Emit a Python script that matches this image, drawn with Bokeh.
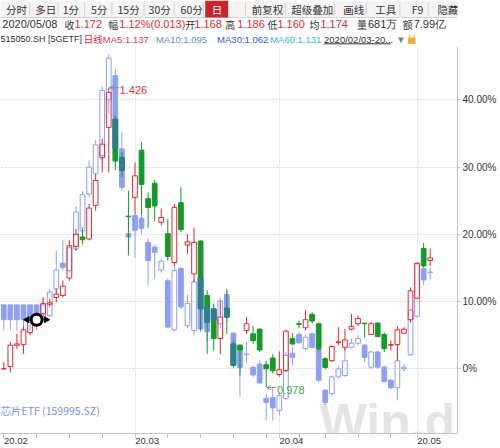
import numpy as np
import pandas as pd
from bokeh.plotting import figure
from bokeh.layouts import column
from bokeh.models import ColumnDataSource, Range1d, FixedTicker, Label, Arrow, OpenHead
from bokeh.embed import file_html
from bokeh.resources import INLINE
from bokeh.core.properties import value

# ---------------- data ----------------
dates = [
    "2020-02-03", "2020-02-04", "2020-02-05", "2020-02-06", "2020-02-07",
    "2020-02-10", "2020-02-11", "2020-02-12", "2020-02-13", "2020-02-14",
    "2020-02-17", "2020-02-18", "2020-02-19", "2020-02-20", "2020-02-21",
    "2020-02-24", "2020-02-25", "2020-02-26", "2020-02-27", "2020-02-28",
    "2020-03-02", "2020-03-03", "2020-03-04", "2020-03-05", "2020-03-06",
    "2020-03-09", "2020-03-10", "2020-03-11", "2020-03-12", "2020-03-13",
    "2020-03-16", "2020-03-17", "2020-03-18", "2020-03-19", "2020-03-20",
    "2020-03-23", "2020-03-24", "2020-03-25", "2020-03-26", "2020-03-27",
    "2020-03-30", "2020-03-31",
    "2020-04-01", "2020-04-02", "2020-04-03", "2020-04-07", "2020-04-08",
    "2020-04-09", "2020-04-10", "2020-04-13", "2020-04-14", "2020-04-15",
    "2020-04-16", "2020-04-17", "2020-04-20", "2020-04-21", "2020-04-22",
    "2020-04-23", "2020-04-24", "2020-04-27", "2020-04-28", "2020-04-29",
    "2020-04-30",
    "2020-05-06", "2020-05-07", "2020-05-08",
]
month_labels = ["20.02", "20.03", "20.04", "20.05"]
y_ticks = [0, 10, 20, 30, 40]
y_tick_labels = ["0%", "10.00%", "20.00%", "30.00%", "40.00%"]

# 515050.SH [5GETF], % change vs base
a_open = [0.0, 0.35, 3.5, 3.6, 5.4, 7.0, 8.2, 9.6, 10.6, 10.9,
          13.5, 18.2, 19.6, 19.3, 24.3, 31.4, 35.9, 37.1, 31.4, 22.7,
          25.5, 32.5, 25.3, 27.6, 21.8, 20.1, 15.8, 24.7, 18.4, 14.1,
          19.0, 10.9, 8.9, 4.5, 9.0, 3.7, 3.5, 5.7, 5.2, 5.9,
          0.6, 1.6, -0.85, -0.25, 4.5, 6.7, 6.1, 8.1, 6.7, 1.5,
          1.2, 3.9, 3.2, 5.9, 6.7, 6.8, 5.1, 6.8, 5.1, 3.5,
          3.6, 5.3, 7.3, 10.5, 17.9, 16.1]
a_high = [1.0, 4.0, 5.2, 6.3, 7.7, 8.4, 10.6, 10.4, 11.9, 13.1,
          19.1, 20.8, 21.0, 24.5, 29.0, 34.2, 41.8, 37.6, 32.2, 26.5,
          30.7, 33.7, 26.2, 28.1, 23.8, 22.3, 24.5, 27.0, 20.0, 21.0,
          19.1, 11.7, 9.7, 10.1, 11.9, 4.2, 3.7, 7.7, 6.4, 6.0,
          1.2, 2.2, 2.6, 5.8, 5.3, 7.2, 8.7, 8.4, 6.9, 1.7,
          3.5, 6.2, 5.9, 8.2, 7.9, 6.8, 7.0, 6.9, 5.4, 4.2,
          6.4, 6.2, 12.1, 15.8, 18.7, 17.9]
a_low = [-0.1, -0.5, 3.0, 2.2, 5.0, 6.6, 7.7, 9.2, 9.9, 10.6,
         13.1, 17.6, 18.5, 19.1, 23.5, 29.2, 29.2, 29.5, 28.5, 17.0,
         23.0, 23.0, 21.0, 22.0, 21.3, 16.1, 15.1, 20.3, 17.1, 12.9,
         5.7, 2.2, 2.7, 2.2, 5.2, 0.2, -1.0, 5.2, 3.7, 2.5,
         -2.8, -0.7, -1.2, -0.5, 3.5, 6.0, 5.7, 6.7, 2.7, -0.1,
         1.0, 3.5, 2.7, 5.7, 6.4, 4.7, 5.0, 4.7, 2.5, 2.7,
         1.2, 5.2, 6.9, 10.4, 15.1, 15.3]
a_close = [0.0, 3.5, 3.7, 5.8, 7.2, 7.8, 9.7, 9.8, 11.1, 12.3,
           18.3, 20.0, 19.2, 23.9, 28.0, 33.4, 41.1, 30.9, 29.5, 22.6,
           28.7, 27.4, 24.0, 24.2, 22.5, 16.7, 24.0, 20.7, 18.9, 18.8,
           8.9, 6.9, 4.5, 7.7, 7.7, 0.5, 2.8, 6.7, 4.2, 2.8,
           0.0, -0.3, -0.15, 5.6, 3.7, 6.6, 7.3, 7.1, 3.0, 0.2,
           3.3, 4.0, 4.3, 6.3, 7.5, 6.7, 6.7, 4.8, 3.0, 3.6,
           5.8, 5.9, 11.6, 15.7, 15.3, 16.5]

# 芯片ETF (159995.SZ), % change vs base
b_open = [9.5, 9.5, 9.5, 9.5, 9.5, 9.5, 7.5, 7.9, 11.9, 15.7,
          14.6, 17.8, 20.5, 26.0, 29.0, 31.7, 40.0, 43.6, 32.7, 20.1,
          22.8, 22.4, 18.8, 18.1, 14.7, 13.1, 5.8, 14.9, 6.4, 5.7,
          13.5, 9.2, 8.9, 6.7, 11.1, 5.3, 2.8, 2.1, 0.2, 0.7,
          -4.4, -4.3, -6.2, -4.4, 2.3, 5.1, 3.0, 5.2, 3.0, -3.2,
          -3.7, -1.2, -1.0, 3.2, 3.8, 3.5, 0.25, 2.5, 0.25, -1.7,
          -2.8, 0.0, 2.1, 7.8, 14.9, 14.3]
b_high = [9.5, 9.5, 9.5, 9.5, 9.5, 9.5, 10.5, 11.9, 17.6, 19.1,
          19.0, 24.2, 26.4, 31.0, 34.0, 42.0, 46.8, 44.6, 35.2, 22.3,
          23.0, 23.5, 19.5, 18.5, 16.5, 13.5, 15.0, 15.2, 11.0, 13.4,
          14.0, 9.5, 9.0, 10.5, 11.5, 5.5, 3.0, 4.0, 0.5, 1.2,
          -3.7, -2.8, -3.5, 2.5, 3.2, 5.5, 5.2, 5.4, 3.2, -3.0,
          -1.0, 0.5, 3.2, 4.5, 5.0, 3.7, 2.7, 2.7, 0.5, -1.5,
          1.7, 0.7, 9.0, 15.8, 15.2, 15.0]
b_low = [5.7, 5.7, 5.7, 5.7, 5.7, 5.7, 7.2, 7.7, 11.1, 14.6,
         14.3, 17.5, 19.8, 25.5, 28.5, 31.0, 38.0, 30.5, 26.5, 16.8,
         16.5, 20.0, 12.4, 13.4, 14.3, 6.0, 5.5, 8.9, 6.0, 5.0,
         5.5, 4.0, 6.5, 6.0, 7.0, 0.2, -4.2, 1.0, -1.2, -2.2,
         -7.7, -7.7, -6.9, -4.6, 0.5, 3.7, 2.7, 3.0, -2.0, -5.4,
         -4.0, -1.5, -1.2, 3.0, 3.5, 1.0, 0.0, 0.0, -2.0, -3.0,
         -4.7, -0.3, 1.9, 7.6, 12.5, 13.3]
b_close = [7.3, 7.3, 7.3, 7.3, 7.3, 7.3, 9.5, 11.4, 14.7, 15.1,
           18.0, 23.3, 25.9, 30.0, 33.3, 41.4, 46.2, 32.8, 27.0, 19.6,
           20.6, 20.9, 16.1, 17.3, 16.0, 6.2, 14.6, 9.2, 9.7, 12.9,
           5.9, 5.5, 7.2, 10.1, 7.7, 0.5, 0.2, 2.2, -0.9, -2.1,
           -5.0, -5.8, -4.0, 2.0, 1.7, 3.9, 4.7, 3.2, -1.7, -5.0,
           -1.2, 0.0, 1.2, 3.8, 4.5, 1.7, 2.5, 0.25, -1.9, -2.8,
           1.2, 0.25, 8.7, 15.6, 13.2, 14.4]

extreme_labels = ["1.426", "0.978"]
b_handle_day = 5  # drag handle of the overlaid series

# ---------------- styles ----------------
RED = "#e2292f"
GREEN = "#15992a"
BLUE = "#8e9ff1"
TEAL = "#2e7f92"
DARK = "#333333"
LAT_NAME = "Liberation Sans"
CJK_NAME = "Noto Sans CJK SC"
LAT = value(LAT_NAME)
CJK = value(CJK_NAME)
W = 0.72
FIG_W = 500

# ---------------- header ----------------
HDR_H = 46
hdr = figure(width=FIG_W, height=HDR_H, x_range=Range1d(0, 500), y_range=Range1d(HDR_H, 0),
             x_axis_type=None, y_axis_type=None, output_backend="svg", toolbar_location=None,
             min_border=0, outline_line_color=None)
hdr.grid.visible = False
hdr.quad(left=[0], right=[500], top=[0], bottom=[17], fill_color="#f4f4f4", line_color=None)
hdr.segment(x0=[0], y0=[17], x1=[500], y1=[17], line_color="#d0d0d0")
seps = [32, 63, 92, 122, 157, 190, 222, 268, 312, 365, 400, 437, 468]
hdr.segment(x0=seps, y0=[2] * len(seps), x1=seps, y1=[15] * len(seps), line_color="#d2d2d2")
hdr.quad(left=[224], right=[249], top=[0], bottom=[17], fill_color="#c8262c", line_color=None)

tb_text = ["分时", "多日", "1分", "5分", "15分", "30分", "60分", "日", "前复权", "超级叠加", "画线", "工具", "F9", "隐藏"]
tb_x = [6, 38, 68, 99, 128, 162, 197, 231, 275, 318, 375, 410, 450, 478]
tb_col = [DARK] * 7 + ["white"] + [DARK] * 6
hdr.text(x=tb_x, y=[8.5] * len(tb_x), text=tb_text, text_color=tb_col, text_font=CJK,
         text_font_size="10.5px", text_baseline="middle", text_align="left")

# info row: CJK captions and Latin values
info_cap = ["收", "幅", "开", "高", "低", "均", "量", "额"]
info_cap_x = [70, 118, 202, 246, 292, 338, 390, 440]
hdr.text(x=info_cap_x, y=[23.5] * len(info_cap_x), text=info_cap, text_color=DARK, text_font=CJK,
         text_font_size="10px", text_baseline="middle", text_align="left")
info_val = ["2020/05/08", "1.172", "1.12%(0.013)", "1.168", "1.186", "1.160", "1.174", "681万", "7.99亿"]
info_val_x = [2, 81, 130, 212, 259, 303, 350, 402, 452]
info_val_col = [DARK, RED, RED, RED, RED, RED, RED, DARK, DARK]
hdr.text(x=info_val_x, y=[23.5] * len(info_val_x), text=info_val, text_color=info_val_col, text_font=LAT,
         text_font_size="11px", text_baseline="middle", text_align="left")

LG_Y = 38.5
hdr.text(x=[0], y=[LG_Y], text=["515050.SH [5GETF]"], text_color=DARK, text_font=LAT,
         text_font_size="9px", text_baseline="middle", text_align="left")
lg_text = ["MA5:1.137", "MA10:1.095", "MA30:1.062", "MA60:1.131", "2020/02/03-20...", "▼"]
lg_x = [112, 170, 237, 295, 354, 433]
lg_col = ["#e03a52", "#6a8dc6", "#3a56de", "#38b6d6", DARK, "#808080"]
hdr.text(x=lg_x, y=[LG_Y] * len(lg_x), text=lg_text, text_color=lg_col, text_font=LAT,
         text_font_size="9.5px", text_baseline="middle", text_align="left")
hdr.text(x=[91], y=[LG_Y], text=["日线"], text_color=RED, text_font=CJK,
         text_font_size="9.5px", text_baseline="middle", text_align="left")
hdr.segment(x0=[354], y0=[43.3], x1=[427], y1=[43.3], line_color=DARK)
hdr.quad(left=[446], right=[454], top=[37], bottom=[43.5], fill_color="#f0b13a", line_color=None)
hdr.segment(x0=[447.5, 452.5], y0=[37, 37], x1=[447.5, 452.5], y1=[34, 34],
            line_color="#f0b13a", line_width=1.2)

# ---------------- main chart ----------------
n = len(dates)
x = np.arange(n)
ZERO_Y, PX_PER_PCT = 368.3, 6.725          # reference pixel geometry of the value scale
FRAME_TOP, FRAME_BOT = HDR_H, 433
X0, PX_PER_DAY, FRAME_RIGHT = 3.3, 6.56, 457
y_top = (ZERO_Y - FRAME_TOP) / PX_PER_PCT
y_bot = (ZERO_Y - FRAME_BOT) / PX_PER_PCT
x_left = -X0 / PX_PER_DAY
x_right = (FRAME_RIGHT - X0) / PX_PER_DAY

p = figure(width=FIG_W, height=448 - HDR_H, x_range=Range1d(x_left, x_right), y_range=Range1d(y_bot, y_top),
           y_axis_location="right", output_backend="svg", toolbar_location=None,
           min_border_left=0, min_border_right=FIG_W - FRAME_RIGHT, min_border_top=0,
           min_border_bottom=448 - FRAME_BOT, outline_line_color=None)

# watermark (kept inside the plot area)
p.add_layout(Label(x=319, y=12, x_units="screen", y_units="screen", text="Win.d",
                   text_font=LAT_NAME, text_font_style="bold", text_font_size="50px",
                   text_color="#e4e4e4", text_baseline="alphabetic", level="underlay"))


def draw_series(o, h, l, c, up_color, dn_color, dn_fill):
    o, h, l, c = map(np.asarray, (o, h, l, c))
    up = c >= o
    top = np.maximum(o, c)
    bot = np.minimum(o, c)
    su = ColumnDataSource(dict(x=x[up], top=top[up], bot=bot[up], h=h[up], l=l[up]))
    sd = ColumnDataSource(dict(x=x[~up], top=top[~up], bot=bot[~up], h=h[~up], l=l[~up]))
    p.segment(x0="x", y0="h", x1="x", y1="top", source=su, line_color=up_color, line_width=1)
    p.segment(x0="x", y0="bot", x1="x", y1="l", source=su, line_color=up_color, line_width=1)
    p.vbar(x="x", width=W, top="top", bottom="bot", source=su, fill_color=None,
           line_color=up_color, line_width=1)
    p.segment(x0="x", y0="h", x1="x", y1="l", source=sd, line_color=dn_color, line_width=1)
    p.vbar(x="x", width=W, top="top", bottom="bot", source=sd, fill_color=dn_fill,
           line_color=dn_fill, line_width=1)
    return up


b_up = draw_series(b_open, b_high, b_low, b_close, BLUE, BLUE, BLUE)
a_up = draw_series(a_open, a_high, a_low, a_close, RED, GREEN, GREEN)

# overlap of the two filled bodies
ao, ac, bo, bc = map(np.asarray, (a_open, a_close, b_open, b_close))
ov_top = np.minimum(ao, bo)
ov_bot = np.maximum(ac, bc)
m = (~a_up) & (~b_up) & (ov_top > ov_bot)
p.vbar(x=x[m], width=W, top=ov_top[m], bottom=ov_bot[m], fill_color=TEAL, line_color=TEAL)

# extreme markers
ah, al = np.asarray(a_high), np.asarray(a_low)
imax, imin = int(np.argmax(ah)), int(np.argmin(al))
for i, yv, txt, col in [(imax, ah[imax], extreme_labels[0], "#e03434"),
                        (imin, al[imin], extreme_labels[1], "#43a043")]:
    p.add_layout(Arrow(x_start=i + 1.55, y_start=yv, x_end=i + 0.1, y_end=yv,
                       end=OpenHead(size=4, line_color="#8a8a8a", line_width=1),
                       line_color="#8a8a8a", line_width=1))
    p.text(x=[i + 1.65], y=[yv], text=[txt], text_color=col, text_font=LAT,
           text_font_size="11px", text_baseline="middle", text_align="left", y_offset=2)

# drag handle of overlay series
hx, hy = b_handle_day, b_close[b_handle_day]
p.scatter(x=[hx - 1.45], y=[hy], marker="triangle", angle=np.pi / 2, size=6, color="black")
p.scatter(x=[hx + 1.45], y=[hy], marker="triangle", angle=-np.pi / 2, size=6, color="black")
p.scatter(x=[hx], y=[hy], marker="circle", size=11, fill_color="white", line_color="black", line_width=3)

p.add_layout(Label(x=0, y=23, x_units="screen", y_units="screen", text="芯片ETF (159995.SZ)",
                   text_font=CJK_NAME, text_font_size="10.5px",
                   text_color="#7d8fe6", text_baseline="middle"))

# axes & grids
d = pd.to_datetime(pd.Series(dates))
month_start = [i for i in range(n) if i == 0 or d[i].month != d[i - 1].month]
week_start = [i for i in range(n) if i == 0 or d[i].isocalendar()[1] != d[i - 1].isocalendar()[1]]
LABEL_SHIFT = 1.85
label_pos = [ms + LABEL_SHIFT for ms in month_start]

xa = p.xaxis[0]
xa.ticker = FixedTicker(ticks=label_pos, minor_ticks=sorted(set(week_start + month_start)))
xa.major_label_overrides = {pos: lab for pos, lab in zip(label_pos, month_labels)}
xa.major_tick_out = 0
xa.major_tick_in = 0
xa.minor_tick_out = 4
xa.minor_tick_in = 0
xa.minor_tick_line_color = "#bdbdbd"
xa.axis_line_color = "#c4c4c4"
xa.major_label_standoff = 0
xa.major_label_text_font = LAT_NAME
xa.major_label_text_font_size = "9.5px"
xa.major_label_text_color = DARK

ya = p.yaxis[0]
ya.ticker = FixedTicker(ticks=y_ticks, minor_ticks=[])
ya.major_label_overrides = {t: lab for t, lab in zip(y_ticks, y_tick_labels)}
ya.major_tick_out = 3
ya.major_tick_in = 0
ya.major_tick_line_color = "#c4c4c4"
ya.axis_line_color = "#c4c4c4"
ya.major_label_standoff = 2
ya.major_label_text_font = LAT_NAME
ya.major_label_text_font_size = "10px"
ya.major_label_text_color = DARK

p.ygrid.ticker = FixedTicker(ticks=y_ticks)
p.ygrid.grid_line_color = "#d6d6d6"
p.ygrid.grid_line_dash = "2 2"
p.xgrid.ticker = FixedTicker(ticks=month_start[1:])
p.xgrid.grid_line_color = "#dadada"
p.xgrid.grid_line_dash = "1 1"

layout = column(hdr, p, spacing=0)
open("out.html", "w").write(file_html(layout, INLINE))
